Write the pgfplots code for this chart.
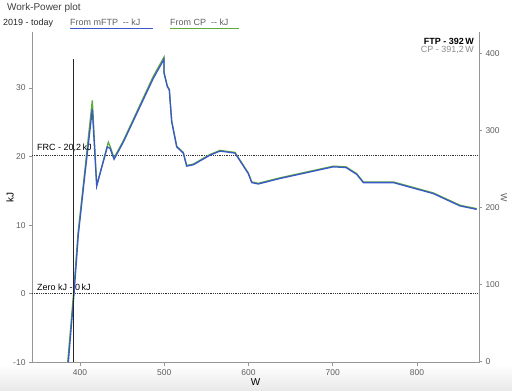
\documentclass[border=0pt]{standalone}
\usepackage{pgfplots}
\pgfplotsset{compat=1.18}
\usepackage{fontspec}
\setmainfont{Liberation Sans}
\definecolor{cblue}{RGB}{58,88,200}
\definecolor{cgreen}{RGB}{95,170,60}
\definecolor{axgray}{RGB}{150,150,150}
\definecolor{txtgray}{RGB}{95,95,95}

\pgfplotstableread{
W kJ
386.1 -10.0
392.9 0.0
398.0 8.6
405.1 16.6
414.6 26.9
419.8 15.7
432.4 21.4
435.6 21.2
440.4 19.6
451.4 22.1
487.0 31.4
499.7 34.2
499.7 32.2
503.6 30.2
506.0 29.7
508.8 25.1
514.8 21.4
522.6 20.5
526.6 18.6
534.5 18.8
554.3 20.2
566.2 20.8
584.0 20.5
599.8 17.5
603.8 16.2
611.6 16.0
637.4 16.8
700.7 18.5
715.7 18.4
728.4 17.4
736.3 16.2
771.9 16.2
819.3 14.6
851.0 12.8
870.9 12.3
}\mftp

\pgfplotstableread{
W kJ
385.4 -10.0
392.3 0.0
397.6 8.8
404.8 16.9
414.6 28.2
419.8 15.8
433.6 22.1
436.0 21.4
440.4 19.8
451.4 22.3
487.0 31.7
499.7 34.5
499.7 32.3
503.6 30.3
506.0 29.8
508.8 25.2
514.8 21.5
522.6 20.6
526.6 18.7
534.5 18.9
554.3 20.3
566.2 20.9
584.0 20.6
599.8 17.6
603.8 16.3
611.6 16.1
637.4 16.9
700.7 18.6
715.7 18.5
728.4 17.5
736.3 16.3
771.9 16.3
819.3 14.7
851.0 12.9
870.9 12.4
}\cp

\begin{document}
\begin{tikzpicture}
\path[use as bounding box] (-32bp,-28.3bp) rectangle (480bp,362.7bp);
\shade[top color=white,bottom color=black!9] (-32bp,-28.3bp) rectangle (480bp,-2bp);
\begin{axis}[
  at={(0,0)}, anchor=south west, scale only axis,
  width=447bp, height=330.7bp,
  xmin=343, xmax=873.6, ymin=-10.06, ymax=38.16,
  axis x line*=bottom, axis y line*=left,
  axis line style={axgray, line width=0.6pt, -},
  xtick={400,500,...,800}, ytick={-10,0,10,20,30},
  tick style={axgray, line width=0.6pt},
  major tick length=3bp, tick align=outside,
  ticklabel style={font=\fontsize{8.5}{10}\selectfont, text=txtgray},
  /pgf/number format/assume math mode=true,
  xlabel={W}, ylabel={kJ},
  label style={font=\fontsize{9}{10}\selectfont, text=txtgray},
  every axis x label/.style={at={(axis description cs:0.5,0)}, anchor=center, yshift=-19.3bp},
  every axis y label/.style={at={(axis description cs:0,0.5)}, anchor=center, xshift=-22bp, rotate=90},
  clip=false,
]
\addplot[densely dotted, black!80, line width=0.8pt] coordinates {(343,20.2) (873.6,20.2)};
\addplot[densely dotted, black!80, line width=0.8pt] coordinates {(343,0) (873.6,0)};
\addplot[cgreen, line width=1.3pt] table[x=W, y=kJ] {\cp};
\addplot[cblue, line width=1.3pt] table[x=W, y=kJ] {\mftp};
\node[anchor=base west, font=\fontsize{9}{10}\selectfont, inner sep=0pt] at (axis cs:343,20.2) [xshift=5bp, yshift=4.5bp] {FRC - 20,2\,kJ};
\node[anchor=base west, font=\fontsize{9}{10}\selectfont, inner sep=0pt] at (axis cs:343,0) [xshift=5bp, yshift=3.5bp] {Zero kJ - 0\,kJ};
\end{axis}
\begin{axis}[
  at={(0,0)}, anchor=south west, scale only axis,
  width=447bp, height=330.7bp,
  xmin=343, xmax=873.6, ymin=-1.3, ymax=427.6,
  axis x line=none, axis y line*=right,
  axis line style={axgray, line width=0.6pt, -},
  ytick={0,100,...,400},
  tick style={axgray, line width=0.6pt},
  major tick length=3bp, tick align=outside,
  ticklabel style={font=\fontsize{8.5}{10}\selectfont, text=txtgray},
  /pgf/number format/assume math mode=true,
  ylabel={W},
  every axis y label/.style={at={(axis description cs:1,0.5)}, anchor=center, xshift=25bp, rotate=-90},
  label style={font=\fontsize{9}{10}\selectfont, text=txtgray},
  clip=false,
]
\addplot[black!85, line width=0.9pt] coordinates {(392,0) (392,392)};
\end{axis}
\node[anchor=base west, font=\fontsize{10}{12}\selectfont, text=black!75, inner sep=0pt] at (-25bp,351.7bp) {Work-Power plot};
\node[anchor=base west, font=\fontsize{9}{10}\selectfont, text=black!85, inner sep=0pt] at (-29bp,336.7bp) {2019 - today};
\node[anchor=base west, font=\fontsize{9}{10}\selectfont, text=txtgray, inner sep=0pt] at (38bp,336.7bp) {From mFTP\ \ -{}- kJ};
\draw[cblue, line width=1.1pt] (38bp,334.4bp) -- (121bp,334.4bp);
\node[anchor=base west, font=\fontsize{9}{10}\selectfont, text=txtgray, inner sep=0pt] at (138bp,336.7bp) {From CP\ \ -{}- kJ};
\draw[cgreen, line width=1.1pt] (138bp,334.4bp) -- (207bp,334.4bp);
\node[anchor=base east, font=\bfseries\fontsize{9}{10}\selectfont, inner sep=0pt] at (442bp,317.7bp) {FTP - 392\,W};
\node[anchor=base east, font=\fontsize{9}{10}\selectfont, text=black!45, inner sep=0pt] at (442bp,309.7bp) {CP - 391,2\,W};
\end{tikzpicture}
\end{document}
